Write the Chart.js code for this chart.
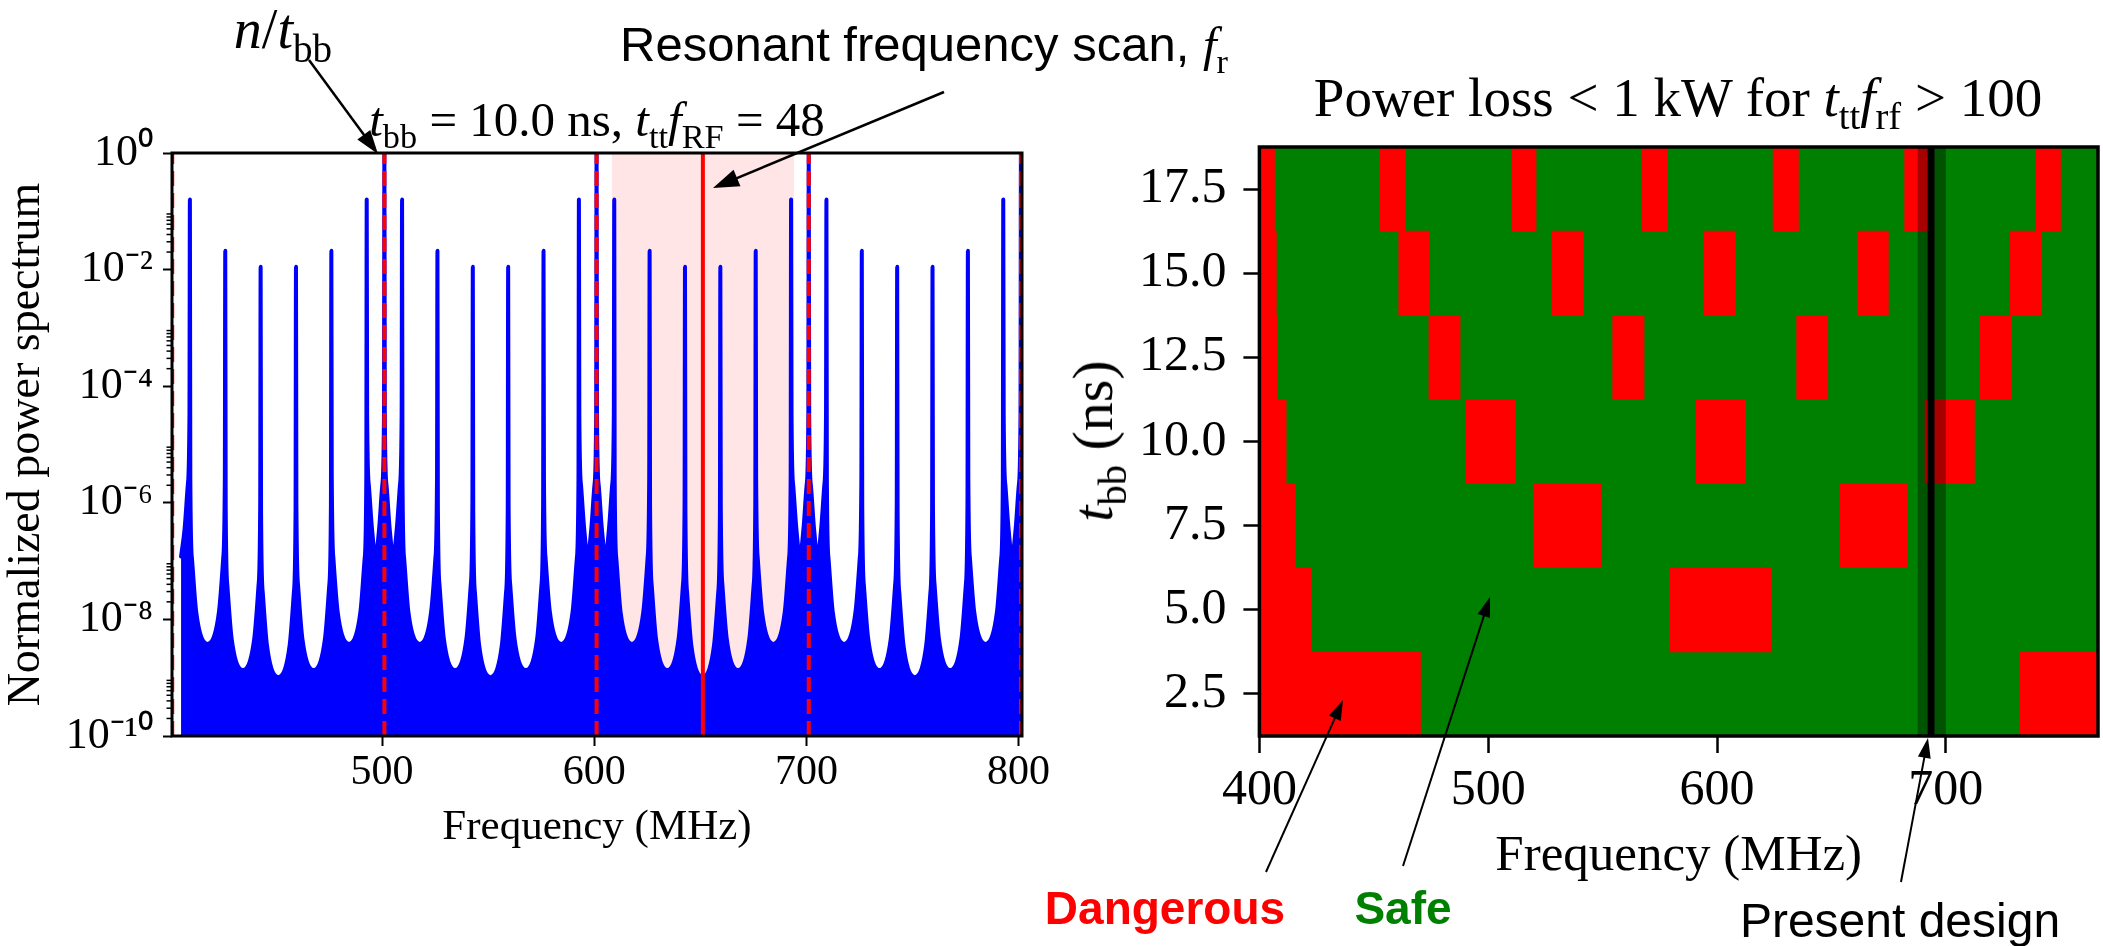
<!DOCTYPE html>
<html><head><meta charset="utf-8">
<script src="https://cdn.jsdelivr.net/npm/chart.js@4/dist/chart.umd.min.js"></script>
<style>
html,body{margin:0;padding:0;background:#fff;}
#wrap{position:relative;width:2103px;height:946px;overflow:hidden;background:#fff;}
canvas{position:absolute;top:0;}
#cL{left:0;width:1060px;height:946px;}
#cR{left:1060px;width:1043px;height:946px;}
.t{position:absolute;white-space:nowrap;line-height:1;transform:translate(-50%,-50%);color:#000;}
.serif{font-family:"Liberation Serif","Times New Roman",serif;}
.sans{font-family:"Liberation Sans",Arial,sans-serif;}
.t sub{font-size:70%;vertical-align:-0.35em;line-height:0;font-style:normal;}
svg{position:absolute;left:0;top:0;}
</style></head><body>
<div id="wrap">
<canvas id="cL" width="1060" height="946"></canvas>
<canvas id="cR" width="1043" height="946"></canvas>

<div class="t serif" style="left:283px;top:29px;font-size:56px;"><i>n</i>/<i>t</i><sub>bb</sub></div>
<div class="t sans" style="left:620px;top:44px;font-size:49px;transform:translate(0,-50%);">Resonant frequency scan, <i class="serif">f</i><sub class="serif">r</sub></div>
<div class="t serif" style="left:597px;top:119px;font-size:49px;"><i>t</i><sub>bb</sub> = 10.0 ns, <i>t</i><sub>tt</sub><i>f</i><sub>RF</sub> = 48</div>
<div class="t serif" style="left:1678px;top:97px;font-size:55px;">Power loss &lt; 1 kW for <i>t</i><sub>tt</sub><i>f</i><sub>rf</sub> &gt; 100</div>
<div class="t serif" style="left:1093px;top:441px;font-size:58px;transform:translate(-50%,-50%) rotate(-90deg);"><i>t</i><sub>bb</sub> (ns)</div>
<div class="t sans" style="left:1165px;top:908px;font-size:46px;font-weight:bold;color:#ff0000;">Dangerous</div>
<div class="t sans" style="left:1403px;top:908px;font-size:46px;font-weight:bold;color:#008000;">Safe</div>
<div class="t sans" style="left:1900px;top:921px;font-size:48px;">Present design</div>
<svg id="arrows" width="2103" height="946"></svg>
</div>
<script>
// ---------------- Left panel data: normalized power spectrum ----------------
const spectrumFreq = [
 405.27, 406.93, 408.43, 409.23, 409.43,
 409.63, 410.43, 412.43, 417.77, 423.10, 425.10, 425.90, 426.10,
 426.30, 427.10, 429.10, 434.43, 439.77, 441.77, 442.57, 442.77,
 442.97, 443.77, 445.77, 451.10, 456.43, 458.43, 459.23, 459.43,
 459.63, 460.43, 462.43, 467.77, 473.10, 475.10, 475.90, 476.10,
 476.30, 477.10, 479.10, 484.43, 489.77, 491.77, 492.57, 492.77,
 492.97, 493.77, 495.27, 496.93, 498.60, 500.10, 500.90, 501.10,
 501.30, 502.10, 503.60, 505.27, 506.93, 508.43, 509.23, 509.43,
 509.63, 510.43, 512.43, 517.77, 523.10, 525.10, 525.90, 526.10,
 526.30, 527.10, 529.10, 534.43, 539.77, 541.77, 542.57, 542.77,
 542.97, 543.77, 545.77, 551.10, 556.43, 558.43, 559.23, 559.43,
 559.63, 560.43, 562.43, 567.77, 573.10, 575.10, 575.90, 576.10,
 576.30, 577.10, 579.10, 584.43, 589.77, 591.77, 592.57, 592.77,
 592.97, 593.77, 595.27, 596.93, 598.60, 600.10, 600.90, 601.10,
 601.30, 602.10, 603.60, 605.27, 606.93, 608.43, 609.23, 609.43,
 609.63, 610.43, 612.43, 617.77, 623.10, 625.10, 625.90, 626.10,
 626.30, 627.10, 629.10, 634.43, 639.77, 641.77, 642.57, 642.77,
 642.97, 643.77, 645.77, 651.10, 656.43, 658.43, 659.23, 659.43,
 659.63, 660.43, 662.43, 667.77, 673.10, 675.10, 675.90, 676.10,
 676.30, 677.10, 679.10, 684.43, 689.77, 691.77, 692.57, 692.77,
 692.97, 693.77, 695.27, 696.93, 698.60, 700.10, 700.90, 701.10,
 701.30, 702.10, 703.60, 705.27, 706.93, 708.43, 709.23, 709.43,
 709.63, 710.43, 712.43, 717.77, 723.10, 725.10, 725.90, 726.10,
 726.30, 727.10, 729.10, 734.43, 739.77, 741.77, 742.57, 742.77,
 742.97, 743.77, 745.77, 751.10, 756.43, 758.43, 759.23, 759.43,
 759.63, 760.43, 762.43, 767.77, 773.10, 775.10, 775.90, 776.10,
 776.30, 777.10, 779.10, 784.43, 789.77, 791.77, 792.57, 792.77,
 792.97, 793.77, 795.27, 796.93, 798.60, 800.10, 800.90, 801.10,
 801.30, 801.60
];
const spectrumPower = [
 1.2e-7, 3.55e-7, 2.0e-6, 3.16e-5, 0.16,
 2.7e-6, 1.08e-7, 1.32e-8, 3.8e-9, 1.32e-8, 1.08e-7, 2.7e-6, 0.021,
 9.5e-7, 3.8e-8, 4.7e-9, 1.35e-9, 4.7e-9, 3.8e-8, 9.5e-7, 0.0112,
 7.2e-7, 2.9e-8, 3.55e-9, 1.02e-9, 3.55e-9, 2.9e-8, 7.2e-7, 0.0112,
 9.5e-7, 3.8e-8, 4.7e-9, 1.35e-9, 4.7e-9, 3.8e-8, 9.5e-7, 0.021,
 2.7e-6, 1.08e-7, 1.32e-8, 3.8e-9, 1.32e-8, 1.08e-7, 2.7e-6, 0.16,
 3.16e-5, 2.0e-6, 3.55e-7, 1.2e-7, 3.55e-7, 2.0e-6, 3.16e-5, 1,
 3.16e-5, 2.0e-6, 3.55e-7, 1.2e-7, 3.55e-7, 2.0e-6, 3.16e-5, 0.16,
 2.7e-6, 1.08e-7, 1.32e-8, 3.8e-9, 1.32e-8, 1.08e-7, 2.7e-6, 0.021,
 9.5e-7, 3.8e-8, 4.7e-9, 1.35e-9, 4.7e-9, 3.8e-8, 9.5e-7, 0.0112,
 7.2e-7, 2.9e-8, 3.55e-9, 1.02e-9, 3.55e-9, 2.9e-8, 7.2e-7, 0.0112,
 9.5e-7, 3.8e-8, 4.7e-9, 1.35e-9, 4.7e-9, 3.8e-8, 9.5e-7, 0.021,
 2.7e-6, 1.08e-7, 1.32e-8, 3.8e-9, 1.32e-8, 1.08e-7, 2.7e-6, 0.16,
 3.16e-5, 2.0e-6, 3.55e-7, 1.2e-7, 3.55e-7, 2.0e-6, 3.16e-5, 1,
 3.16e-5, 2.0e-6, 3.55e-7, 1.2e-7, 3.55e-7, 2.0e-6, 3.16e-5, 0.16,
 2.7e-6, 1.08e-7, 1.32e-8, 3.8e-9, 1.32e-8, 1.08e-7, 2.7e-6, 0.021,
 9.5e-7, 3.8e-8, 4.7e-9, 1.35e-9, 4.7e-9, 3.8e-8, 9.5e-7, 0.0112,
 7.2e-7, 2.9e-8, 3.55e-9, 1.02e-9, 3.55e-9, 2.9e-8, 7.2e-7, 0.0112,
 9.5e-7, 3.8e-8, 4.7e-9, 1.35e-9, 4.7e-9, 3.8e-8, 9.5e-7, 0.021,
 2.7e-6, 1.08e-7, 1.32e-8, 3.8e-9, 1.32e-8, 1.08e-7, 2.7e-6, 0.16,
 3.16e-5, 2.0e-6, 3.55e-7, 1.2e-7, 3.55e-7, 2.0e-6, 3.16e-5, 1,
 3.16e-5, 2.0e-6, 3.55e-7, 1.2e-7, 3.55e-7, 2.0e-6, 3.16e-5, 0.16,
 2.7e-6, 1.08e-7, 1.32e-8, 3.8e-9, 1.32e-8, 1.08e-7, 2.7e-6, 0.021,
 9.5e-7, 3.8e-8, 4.7e-9, 1.35e-9, 4.7e-9, 3.8e-8, 9.5e-7, 0.0112,
 7.2e-7, 2.9e-8, 3.55e-9, 1.02e-9, 3.55e-9, 2.9e-8, 7.2e-7, 0.0112,
 9.5e-7, 3.8e-8, 4.7e-9, 1.35e-9, 4.7e-9, 3.8e-8, 9.5e-7, 0.021,
 2.7e-6, 1.08e-7, 1.32e-8, 3.8e-9, 1.32e-8, 1.08e-7, 2.7e-6, 0.16,
 3.16e-5, 2.0e-6, 3.55e-7, 1.2e-7, 3.55e-7, 2.0e-6, 3.16e-5, 1,
 3.16e-5, 5.0e-6
];
const bunchHarmonics = [401.1, 501.1, 601.1, 701.1, 801.1];   // n / t_bb
const resonantFreq = 651.2;                                   // f_r
const scanRange = [608.2, 694.2];                             // resonant scan band
const xRangeL = [401.0, 801.6];
const yRangeL = [1e-10, 1];
const xTicksL = [500, 600, 700, 800];
const yTicksL = [1e-10, 1e-8, 1e-6, 1e-4, 1e-2, 1];
const yTickLabelsL = ['10\u207B\u00B9\u2070', '10\u207B\u2078', '10\u207B\u2076', '10\u207B\u2074', '10\u207B\u00B2', '10\u2070'];
const minorDecadesL = [-10, -8, -6, -4, -2];
const minorMultsL = [2, 3, 4, 5, 6, 7, 8, 9];

// ---------------- Right panel data: danger map ----------------
const rowTbb = [17.5, 15.0, 12.5, 10.0, 7.5, 5.0, 2.5];
const dangerLo = [
 [400.0, 452.7, 510.3, 567.2, 624.5, 682.0, 739.3],
 [400.0, 460.9, 527.6, 594.3, 661.3, 728.2],
 [400.0, 474.1, 554.4, 634.8, 714.8],
 [400.0, 490.3, 590.6, 690.9],
 [400.0, 519.7, 653.8],
 [400.0, 579.2],
 [400.0, 732.5]
];
const dangerHi = [
 [406.6, 463.7, 520.9, 578.1, 635.6, 692.0, 750.1],
 [407.4, 474.3, 541.3, 608.0, 674.9, 741.9],
 [407.7, 487.7, 568.1, 648.4, 728.5],
 [411.7, 512.0, 612.3, 712.5],
 [415.4, 549.3, 682.9],
 [422.8, 623.6],
 [470.4, 766.5]
];
const xRangeR = [400, 766.5];
const yRangeR = [1.25, 18.75];
const xTicksR = [400, 500, 600, 700];
const presentDesign = [692.2, 694.9];
const presentBand = [687.7, 700.0];

// ---------------- helpers ----------------
const SERIF = '"Liberation Serif", "Times New Roman", serif';
function framePlugin(id, lw) {
  return { id, afterDatasetsDraw(chart) {
    const { ctx, chartArea: a } = chart;
    ctx.save(); ctx.strokeStyle = '#000'; ctx.lineWidth = lw;
    ctx.strokeRect(a.left, a.top, a.right - a.left, a.bottom - a.top);
    ctx.restore();
  }};
}
const minorTicksPlugin = { id: 'minorTicksL', afterDraw(chart) {
  const s = chart.scales.y, ctx = chart.ctx;
  ctx.save(); ctx.strokeStyle = '#000'; ctx.lineWidth = 1.5;
  minorDecadesL.forEach(e => minorMultsL.forEach(m => {
    const py = s.getPixelForValue(m * Math.pow(10, e));
    ctx.beginPath(); ctx.moveTo(s.right - 5.5, py); ctx.lineTo(s.right, py); ctx.stroke();
  }));
  ctx.restore();
}};

// ---------------- Left chart ----------------
const vline = (x, y0, y1) => [{ x, y: y0 }, { x, y: y1 }];
const leftDatasets = [];
bunchHarmonics.forEach(f => leftDatasets.push({
  label: 'n/t_bb', data: vline(f, yRangeL[0], yRangeL[1]), borderColor: '#ff0000',
  borderWidth: 4, borderDash: [15, 7], pointRadius: 0, fill: false, order: 0
}));
leftDatasets.push({
  label: 'f_r', data: vline(resonantFreq, yRangeL[0], yRangeL[1]), borderColor: '#ff0000',
  borderWidth: 4, pointRadius: 0, fill: false, order: 0
});
leftDatasets.push({
  label: 'spectrum', data: spectrumFreq.map((f, i) => ({ x: f, y: spectrumPower[i] })),
  borderColor: '#0000ff', backgroundColor: '#0000ff', borderWidth: 4,
  borderJoinStyle: 'round', borderCapStyle: 'round',
  pointRadius: 0, fill: 'start', cubicInterpolationMode: 'monotone', order: 1
});
leftDatasets.push({
  label: 'scan', data: [{ x: scanRange[0], y: yRangeL[1] }, { x: scanRange[1], y: yRangeL[1] }],
  borderWidth: 0, borderColor: 'rgba(0,0,0,0)', backgroundColor: 'rgba(255,0,0,0.1)',
  pointRadius: 0, fill: 'start', order: 2
});

new Chart(document.getElementById('cL'), {
  type: 'line',
  data: { datasets: leftDatasets },
  options: {
    responsive: false, animation: false, events: [], devicePixelRatio: 1,
    layout: { padding: { left: 0, top: 153, right: 38, bottom: 90 } },
    plugins: { legend: { display: false }, tooltip: { enabled: false }, title: { display: false } },
    scales: {
      x: {
        type: 'linear', min: xRangeL[0], max: xRangeL[1],
        afterBuildTicks: s => { s.ticks = xTicksL.map(v => ({ value: v })); },
        afterFit: s => { s.height = 120; },
        border: { display: false },
        grid: { drawOnChartArea: false, drawTicks: true, tickLength: 10, tickWidth: 2, tickColor: '#000' },
        ticks: { autoSkip: false, maxRotation: 0, padding: 6, color: '#000',
                 font: { family: SERIF, size: 42, lineHeight: 1 } },
        title: { display: true, text: 'Frequency (MHz)', color: '#000',
                 font: { family: SERIF, size: 43, lineHeight: 1 }, padding: { top: 0, bottom: 7 } }
      },
      y: {
        type: 'logarithmic', min: yRangeL[0], max: yRangeL[1],
        afterBuildTicks: s => { s.ticks = yTicksL.map(v => ({ value: v })); },
        afterFit: s => { s.width = 172; },
        border: { display: false },
        grid: { drawOnChartArea: false, drawTicks: true, tickLength: 9, tickWidth: 2, tickColor: '#000' },
        ticks: { autoSkip: false, padding: 10, color: '#000',
                 font: { family: SERIF, size: 44, lineHeight: 1 },
                 callback: (v, i) => yTickLabelsL[i] },
        title: { display: true, text: 'Normalized power spectrum', color: '#000',
                 font: { family: SERIF, size: 46, lineHeight: 1 }, padding: { top: 4, bottom: 0 } }
      }
    }
  },
  plugins: [framePlugin('frameL', 3), minorTicksPlugin]
});

// ---------------- Right chart ----------------
const dangerData = [];
rowTbb.forEach((t, r) => dangerLo[r].forEach((lo, k) => dangerData.push({ y: t, x: [lo, dangerHi[r][k]] })));

new Chart(document.getElementById('cR'), {
  type: 'bar',
  data: { datasets: [
    { label: 'Present design', data: rowTbb.map(t => ({ y: t, x: presentDesign.slice() })),
      backgroundColor: '#000000', order: 0 },
    { label: 'Present design band', data: rowTbb.map(t => ({ y: t, x: presentBand.slice() })),
      backgroundColor: 'rgba(0,0,0,0.35)', inflateAmount: 0, order: 1 },
    { label: 'Dangerous', data: dangerData, backgroundColor: '#ff0000', order: 2 },
    { label: 'Safe', data: rowTbb.map(t => ({ y: t, x: xRangeR.slice() })),
      backgroundColor: '#008000', order: 3 }
  ]},
  options: {
    indexAxis: 'y', responsive: false, animation: false, events: [], devicePixelRatio: 1,
    datasets: { bar: { grouped: false, barPercentage: 1, categoryPercentage: 1, borderWidth: 0 } },
    layout: { padding: { left: 0, top: 147, right: 5, bottom: 60 } },
    plugins: { legend: { display: false }, tooltip: { enabled: false }, title: { display: false } },
    scales: {
      x: {
        type: 'linear', min: xRangeR[0], max: xRangeR[1],
        afterBuildTicks: s => { s.ticks = xTicksR.map(v => ({ value: v })); },
        afterFit: s => { s.height = 150; },
        border: { display: false },
        grid: { drawOnChartArea: false, drawTicks: true, tickLength: 17, tickWidth: 2.5, tickColor: '#000' },
        ticks: { autoSkip: false, maxRotation: 0, padding: 13, color: '#000',
                 font: { family: SERIF, size: 50, lineHeight: 1 } },
        title: { display: true, text: 'Frequency (MHz)', color: '#000',
                 font: { family: SERIF, size: 51, lineHeight: 1 }, padding: { top: 0, bottom: 4 } }
      },
      y: {
        type: 'linear', min: yRangeR[0], max: yRangeR[1], offset: false,
        afterBuildTicks: s => { s.ticks = rowTbb.map(v => ({ value: v })); },
        afterFit: s => { s.width = 199.4; },
        border: { display: false },
        grid: { offset: false, drawOnChartArea: false, drawTicks: true, tickLength: 16, tickWidth: 2.5, tickColor: '#000' },
        ticks: { autoSkip: false, padding: 17, color: '#000',
                 font: { family: SERIF, size: 50, lineHeight: 1 },
                 callback: v => Number(v).toFixed(1) }
      }
    }
  },
  plugins: [framePlugin('frameR', 3.5)]
});

// ---------------- annotation arrows ----------------
const arrows = [
  { from: [309, 60], to: [378, 154], head: 24, half: 8, lw: 2.5 },
  { from: [944, 92], to: [713, 188], head: 26, half: 9, lw: 2.5 },
  { from: [1266, 872], to: [1343, 700], head: 20, half: 6.5, lw: 2 },
  { from: [1403, 866], to: [1490, 597], head: 20, half: 6.5, lw: 2 },
  { from: [1901, 882], to: [1928, 738], head: 20, half: 6.5, lw: 2 }
];
const svg = document.getElementById('arrows');
const NS = 'http://www.w3.org/2000/svg';
arrows.forEach(a => {
  const [x0, y0] = a.from, [x1, y1] = a.to;
  const dx = x1 - x0, dy = y1 - y0, L = Math.hypot(dx, dy);
  const ux = dx / L, uy = dy / L, px = -uy, py = ux;
  const bx = x1 - ux * a.head, by = y1 - uy * a.head;
  const line = document.createElementNS(NS, 'line');
  line.setAttribute('x1', x0); line.setAttribute('y1', y0);
  line.setAttribute('x2', bx + ux * 2); line.setAttribute('y2', by + uy * 2);
  line.setAttribute('stroke', '#000'); line.setAttribute('stroke-width', a.lw);
  svg.appendChild(line);
  const poly = document.createElementNS(NS, 'polygon');
  poly.setAttribute('points', `${x1},${y1} ${bx + px * a.half},${by + py * a.half} ${bx - px * a.half},${by - py * a.half}`);
  poly.setAttribute('fill', '#000');
  svg.appendChild(poly);
});
</script>
</body></html>
